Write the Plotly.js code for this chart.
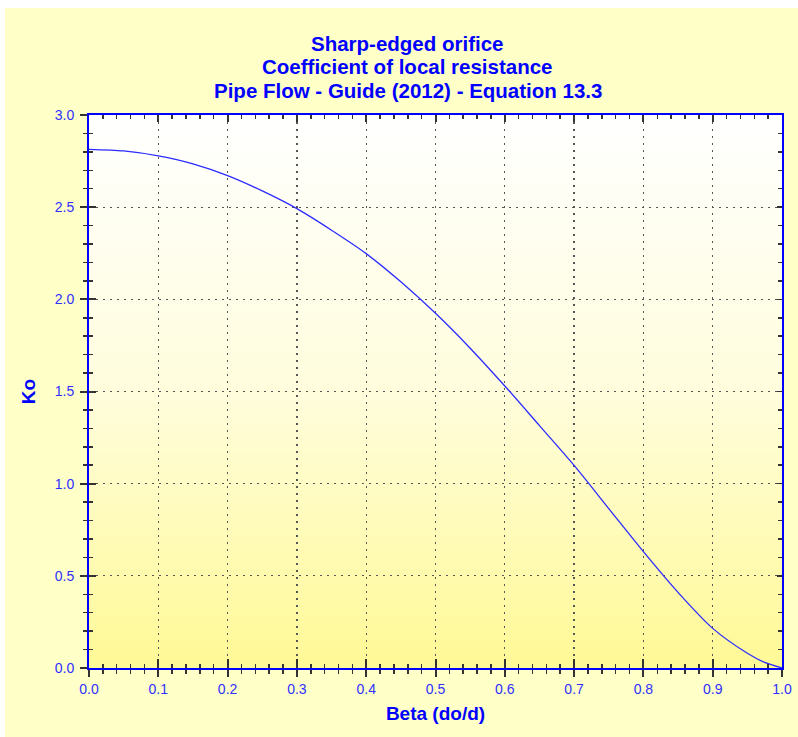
<!DOCTYPE html>
<html>
<head>
<meta charset="utf-8">
<script src="https://cdn.plot.ly/plotly-3.0.1.min.js"></script>
<style>
  html, body { margin: 0; padding: 0; background: #ffffff; }
  #chart { position: absolute; left: 5px; top: 8px; width: 793px; height: 729px; }
</style>
</head>
<body>
<div id="chart"></div>
<script>
// Data
var beta = [0, 0.05, 0.1, 0.15, 0.2, 0.25, 0.3, 0.35, 0.4, 0.45, 0.5, 0.55, 0.6, 0.65, 0.7, 0.75, 0.8, 0.85, 0.9, 0.95, 0.975, 1.0];
var ko   = [2.814, 2.805, 2.778, 2.735, 2.671, 2.588, 2.492, 2.375, 2.248, 2.095, 1.924, 1.735, 1.530, 1.315, 1.099, 0.865, 0.631, 0.41, 0.215, 0.08, 0.03, 0];

var titleLines = ['Sharp-edged orifice', 'Coefficient of local resistance', 'Pipe Flow - Guide (2012) - Equation 13.3'];
var xTitle = 'Beta (do/d)';
var yTitle = 'Ko';
var xTickVals = [0, 0.1, 0.2, 0.3, 0.4, 0.5, 0.6, 0.7, 0.8, 0.9, 1.0];
var xTickText = ['0.0', '0.1', '0.2', '0.3', '0.4', '0.5', '0.6', '0.7', '0.8', '0.9', '1.0'];
var yTickVals = [0, 0.5, 1.0, 1.5, 2.0, 2.5, 3.0];
var yTickText = ['0.0', '0.5', '1.0', '1.5', '2.0', '2.5', '3.0'];

var FONT = '"Liberation Sans", Arial, sans-serif';
var BLUE = '#0000ff';
var TICKBLUE = '#3030ff';
var TICKC = '#333333';
var AXLINE = '#0000ff';

var gradSvg = '<svg xmlns="http://www.w3.org/2000/svg" width="100" height="100" preserveAspectRatio="none">' +
  '<defs><linearGradient id="g" x1="0" y1="0" x2="0" y2="1">' +
  '<stop offset="0" stop-color="#ffffff"/><stop offset="0.5" stop-color="#fffddc"/><stop offset="1" stop-color="#fff996"/>' +
  '</linearGradient></defs><rect width="100" height="100" fill="url(#g)"/></svg>';
var gradUri = 'data:image/svg+xml;charset=utf-8,' + encodeURIComponent(gradSvg);

var traces = [
  {x: beta, y: ko, type: 'scatter', mode: 'lines', line: {color: '#2b2bff', width: 1.3, shape: 'spline', smoothing: 0.8}, hoverinfo: 'skip', showlegend: false},
  {x: beta, y: ko, xaxis: 'x2', yaxis: 'y2', type: 'scatter', mode: 'lines', line: {color: 'rgba(0,0,0,0)', width: 0}, hoverinfo: 'skip', showlegend: false},
  {x: beta, y: ko, xaxis: 'x3', yaxis: 'y3', type: 'scatter', mode: 'lines', line: {color: 'rgba(0,0,0,0)', width: 0}, hoverinfo: 'skip', showlegend: false}
];

var dotGrid = '1.5px,5.5px';
var titleY = [1.1297, 1.0868, 1.0439];
var titleFont = {family: FONT, size: 20.5, color: BLUE, weight: 'bold'};

var layout = {
  width: 793, height: 729,
  paper_bgcolor: '#ffffc8',
  plot_bgcolor: 'rgba(0,0,0,0)',
  margin: {l: 84, r: 16, t: 107, b: 69, pad: 0},
  showlegend: false,
  annotations: titleLines.map(function (t, i) {
    return {text: t, xref: 'paper', yref: 'paper', x: 0.4603, y: titleY[i], borderpad: 0,
            xanchor: 'center', yanchor: 'middle', showarrow: false, font: titleFont};
  }),
  images: [{
    source: gradUri, xref: 'paper', yref: 'paper', x: 0, y: 1, sizex: 1, sizey: 1,
    xanchor: 'left', yanchor: 'top', sizing: 'stretch', layer: 'below'
  }],
  xaxis: {
    range: [0, 1], fixedrange: true,
    tickmode: 'array', tickvals: xTickVals, ticktext: xTickText,
    ticks: 'outside', ticklen: 7, tickwidth: 2, tickcolor: TICKC,
    tickfont: {family: FONT, size: 14, color: TICKBLUE},
    showline: true, linecolor: AXLINE, linewidth: 2, mirror: true,
    showgrid: true, gridcolor: '#555555', gridwidth: 1.3, griddash: dotGrid,
    zeroline: false,
    minor: {dtick: 0.02, ticks: 'outside', ticklen: 4, tickwidth: 1.5, tickcolor: TICKC, showgrid: false},
    title: {text: xTitle, font: {family: FONT, size: 19, color: BLUE, weight: 'bold'}, standoff: 11}
  },
  yaxis: {
    range: [0, 3], fixedrange: true,
    tickmode: 'array', tickvals: yTickVals, ticktext: yTickText,
    ticks: 'outside', ticklen: 7, tickwidth: 2, tickcolor: TICKC,
    tickfont: {family: FONT, size: 14, color: TICKBLUE},
    ticklabelstandoff: 3,
    showline: true, linecolor: AXLINE, linewidth: 2, mirror: true,
    showgrid: true, gridcolor: '#555555', gridwidth: 1.3, griddash: dotGrid,
    zeroline: false,
    minor: {dtick: 0.1, ticks: 'outside', ticklen: 4, tickwidth: 1.5, tickcolor: TICKC, showgrid: false},
    title: {text: yTitle, font: {family: FONT, size: 19, color: BLUE, weight: 'bold'}, standoff: 14}
  },
  // top / right inward ticks
  xaxis2: {
    overlaying: 'x', side: 'top', range: [0, 1], fixedrange: true,
    tickmode: 'array', tickvals: xTickVals, showticklabels: false,
    ticks: 'inside', ticklen: 7, tickwidth: 2, tickcolor: TICKC,
    minor: {dtick: 0.02, ticks: 'inside', ticklen: 4, tickwidth: 1.5, tickcolor: TICKC, showgrid: false},
    showgrid: false, zeroline: false, showline: false
  },
  yaxis2: {
    overlaying: 'y', side: 'right', range: [0, 3], fixedrange: true,
    tickmode: 'array', tickvals: yTickVals, showticklabels: false,
    ticks: 'inside', ticklen: 5, tickwidth: 1.5, tickcolor: TICKC,
    minor: {dtick: 0.1, ticks: 'inside', ticklen: 4, tickwidth: 1.5, tickcolor: TICKC, showgrid: false},
    showgrid: false, zeroline: false, showline: false
  },
  // inner halves of the crossing ticks on bottom / left
  xaxis3: {
    overlaying: 'x', side: 'bottom', range: [0, 1], fixedrange: true,
    tickmode: 'array', tickvals: xTickVals, showticklabels: false,
    ticks: 'inside', ticklen: 9, tickwidth: 2, tickcolor: TICKC,
    minor: {dtick: 0.02, ticks: 'inside', ticklen: 4, tickwidth: 1.5, tickcolor: TICKC, showgrid: false},
    showgrid: false, zeroline: false, showline: false
  },
  yaxis3: {
    overlaying: 'y', side: 'left', range: [0, 3], fixedrange: true,
    tickmode: 'array', tickvals: yTickVals, showticklabels: false,
    ticks: 'inside', ticklen: 7, tickwidth: 2, tickcolor: TICKC,
    minor: {dtick: 0.1, ticks: 'inside', ticklen: 4, tickwidth: 1.5, tickcolor: TICKC, showgrid: false},
    showgrid: false, zeroline: false, showline: false
  }
};

Plotly.newPlot('chart', traces, layout, {displayModeBar: false, staticPlot: true});
</script>
</body>
</html>
